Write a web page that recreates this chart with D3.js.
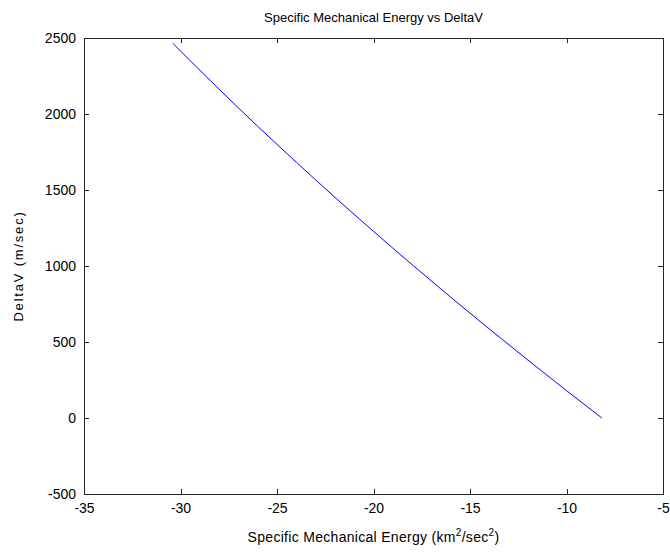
<!DOCTYPE html>
<html><head><meta charset="utf-8">
<script src="https://cdn.jsdelivr.net/npm/d3@7"></script>
<style>body{margin:0;background:#fff}svg{display:block}text{font-family:"Liberation Sans",Arial,sans-serif;fill:#000}</style>
</head><body><svg id="c" width="670" height="555"></svg>
<script>
const energy = [-30.4, -28, -26, -24, -22, -20, -18, -16, -14, -12, -10, -8.17];
const deltaV = [2465, 2163, 1919, 1683, 1452, 1228, 1009, 795, 586, 381, 180, 0];
const xTicks = [-35, -30, -25, -20, -15, -10, -5];
const yTicks = [-500, 0, 500, 1000, 1500, 2000, 2500];
const title = "Specific Mechanical Energy vs DeltaV";

const L = 84, R = 663, T = 38, B = 494;
const svg = d3.select("#c");
const x = d3.scaleLinear().domain([-35, -5]).range([L, R]);
const y = d3.scaleLinear().domain([-500, 2500]).range([B, T]);
const col = "#262626";
const fmt = d => String(d);

const gx = svg.append("g").attr("transform", `translate(0,${B})`)
  .call(d3.axisBottom(x).tickValues(xTicks).tickSizeInner(-5).tickSizeOuter(0).tickPadding(9).tickFormat(fmt));
const gxt = svg.append("g").attr("transform", `translate(0,${T})`)
  .call(d3.axisTop(x).tickValues(xTicks).tickSizeInner(-5).tickSizeOuter(0).tickFormat(""));
const gy = svg.append("g").attr("transform", `translate(${L},0)`)
  .call(d3.axisLeft(y).tickValues(yTicks).tickSizeInner(-5).tickSizeOuter(0).tickPadding(8).tickFormat(fmt));
const gyr = svg.append("g").attr("transform", `translate(${R},0)`)
  .call(d3.axisRight(y).tickValues(yTicks).tickSizeInner(-5).tickSizeOuter(0).tickFormat(""));
[gx, gxt, gy, gyr].forEach(g => {
  g.selectAll("path.domain").attr("stroke", col).attr("stroke-width", 1);
  g.selectAll(".tick line").attr("stroke", col);
  g.selectAll(".tick text").attr("font-size", 14).attr("font-family", '"Liberation Sans",Arial,sans-serif').attr("fill", "#000");
});
svg.selectAll(".domain").attr("shape-rendering", "crispEdges");
svg.selectAll(".tick line").attr("shape-rendering", "crispEdges");

const pts = energy.map((e, i) => [e, deltaV[i]]);
svg.append("path").datum(pts)
  .attr("fill", "none").attr("stroke", "#0000ff").attr("stroke-width", 1)
  .attr("d", d3.line().x(d => x(d[0])).y(d => y(d[1])).curve(d3.curveMonotoneX));

svg.append("text").attr("x", (L + R) / 2).attr("y", 22).attr("text-anchor", "middle")
  .attr("font-size", 13).text(title);

const xl = svg.append("text").attr("x", (L + R) / 2).attr("y", 542).attr("text-anchor", "middle")
  .attr("font-size", 14).attr("letter-spacing", 0.3);
xl.append("tspan").text("Specific Mechanical Energy (km");
xl.append("tspan").attr("font-size", 10).attr("dy", -6).text("2");
xl.append("tspan").attr("dy", 6).text("/sec");
xl.append("tspan").attr("font-size", 10).attr("dy", -6).text("2");
xl.append("tspan").attr("dy", 6).text(")");

svg.append("text").attr("transform", `translate(23,${(T + B) / 2}) rotate(-90)`)
  .attr("text-anchor", "middle").attr("font-size", 13).attr("letter-spacing", 1.8).text("DeltaV (m/sec)");
</script></body></html>
